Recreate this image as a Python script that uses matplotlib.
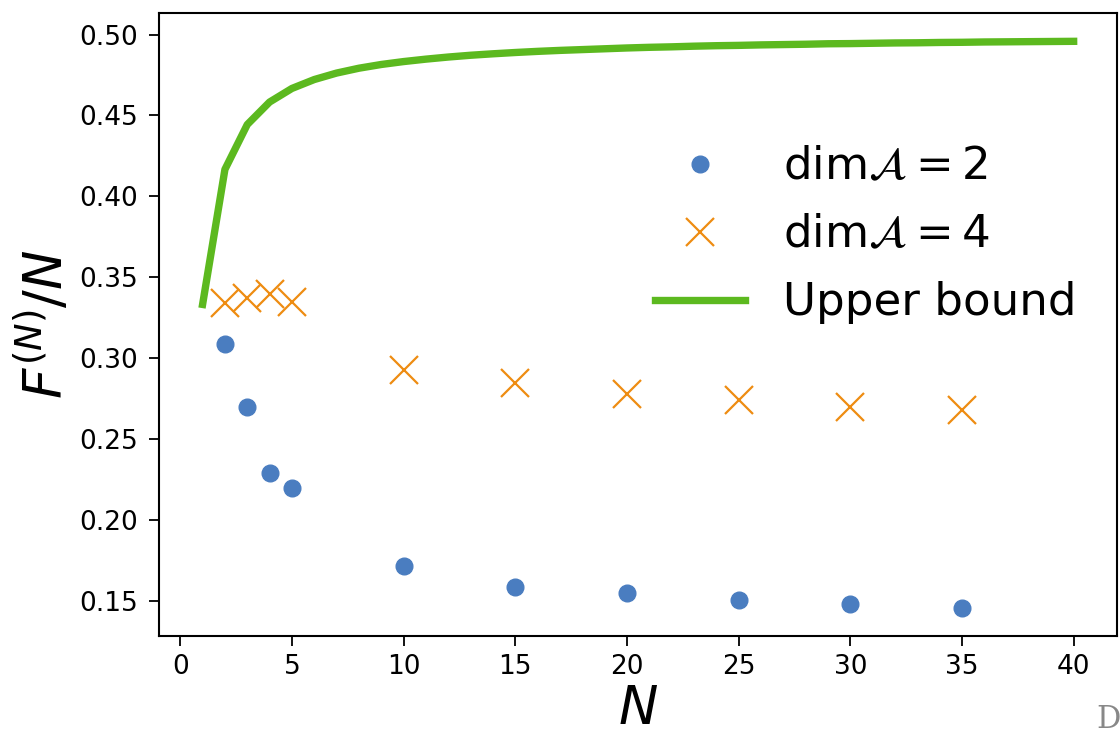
import matplotlib
matplotlib.use("Agg")
import matplotlib.pyplot as plt

# Data
n_dim2 = [2, 3, 4, 5, 10, 15, 20, 25, 30, 35]
f_dim2 = [0.309, 0.270, 0.229, 0.220, 0.172, 0.159, 0.155, 0.151, 0.148, 0.146]

n_dim4 = [2, 3, 4, 5, 10, 15, 20, 25, 30, 35]
f_dim4 = [0.334, 0.337, 0.340, 0.335, 0.293, 0.285, 0.278, 0.274, 0.270, 0.268]

n_bound = list(range(1, 41))
f_bound = [0.3333, 0.4167, 0.4444, 0.4583, 0.4667, 0.4722, 0.4762, 0.4792, 0.4815, 0.4833,
           0.4848, 0.4861, 0.4872, 0.4881, 0.4889, 0.4896, 0.4902, 0.4907, 0.4912, 0.4917,
           0.4921, 0.4924, 0.4928, 0.4931, 0.4933, 0.4936, 0.4938, 0.4940, 0.4943, 0.4944,
           0.4946, 0.4948, 0.4949, 0.4951, 0.4952, 0.4954, 0.4955, 0.4956, 0.4957, 0.4958]

xticks = [0, 5, 10, 15, 20, 25, 30, 35, 40]
yticks = [0.15, 0.20, 0.25, 0.30, 0.35, 0.40, 0.45, 0.50]

fig = plt.figure(figsize=(11.2, 7.35), dpi=100)
ax = fig.add_axes([0.142, 0.1347, 0.8555, 0.8476])

ax.plot(n_dim2, f_dim2, linestyle='none', marker='o', markersize=12,
        color='#4A7DC0', label=r'dim$\mathcal{A} = 2$')
ax.plot(n_dim4, f_dim4, linestyle='none', marker='x', markersize=20,
        markeredgewidth=1.6, color='#EE8C12', label=r'dim$\mathcal{A} = 4$')
ax.plot(n_bound, f_bound, color='#5CB91F', linewidth=5.3, label='Upper bound')

ax.set_xticks(xticks)
ax.set_yticks(yticks)
ax.set_yticklabels([f'{v:.2f}' for v in yticks])
ax.tick_params(axis='both', labelsize=19, length=7, width=1.3)
ax.tick_params(axis='y', pad=8)
ax.tick_params(axis='x', pad=6)
for s in ax.spines.values():
    s.set_linewidth(1.5)

ax.set_xlabel(r'$N$', fontsize=38, labelpad=2)
ax.set_ylabel(r'$F^{(N)}/N$', fontsize=38, labelpad=4)

leg = ax.legend(loc='upper left', bbox_to_anchor=(0.475, 0.852), frameon=False,
                fontsize=32.5, handlelength=2.0, handletextpad=0.85,
                labelspacing=0.55)

fig.text(0.979, 0.0, 'D', color='#888888', fontsize=22, family='DejaVu Serif',
         va='bottom')

fig.savefig('out.png', dpi=100)
